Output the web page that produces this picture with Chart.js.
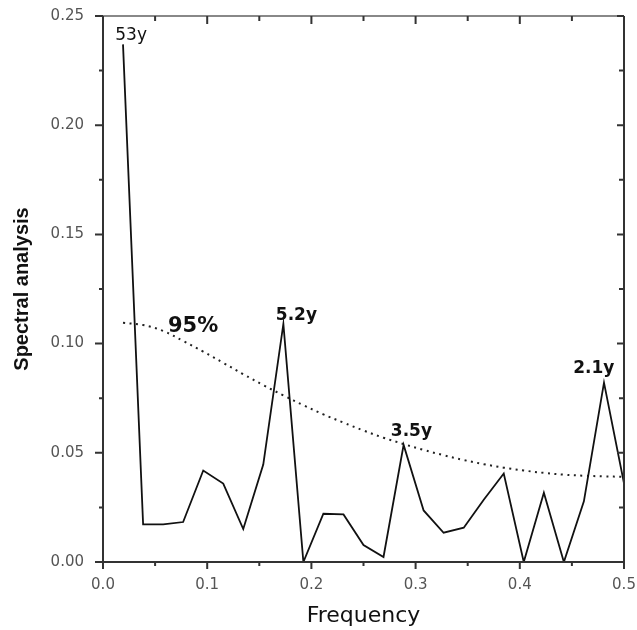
<!DOCTYPE html>
<html>
<head>
<meta charset="utf-8">
<script src="https://cdn.jsdelivr.net/npm/chart.js@4.4.1/dist/chart.umd.min.js"></script>
<style>
  body { margin: 0; background: #fff; }
  #wrap { width: 637px; height: 630px; position: relative; }
</style>
</head>
<body>
<div id="wrap"><canvas id="spectrumChart"></canvas></div>
<script>
// ==================== DATA ====================
const freq = [0.0192, 0.0385, 0.0577, 0.0769, 0.0962, 0.1154, 0.1346, 0.1538, 0.1731, 0.1923,
              0.2115, 0.2308, 0.25, 0.2692, 0.2885, 0.3077, 0.3269, 0.3462, 0.3654, 0.3846,
              0.4038, 0.4231, 0.4423, 0.4615, 0.4808, 0.5];
const power = [0.237, 0.0172, 0.0172, 0.0183, 0.0419, 0.0359, 0.0151, 0.0446, 0.109, 0,
               0.0221, 0.0218, 0.0078, 0.0023, 0.0536, 0.0236, 0.0134, 0.0157, 0.0285, 0.0405,
               0, 0.0317, 0, 0.0278, 0.0821, 0.036];
const conf95 = [0.1095, 0.1085, 0.1058, 0.1012, 0.0963, 0.0912, 0.086, 0.081, 0.0763, 0.0718,
                0.0676, 0.0638, 0.0602, 0.0569, 0.054, 0.0513, 0.0489, 0.0467, 0.0448, 0.0432,
                0.0419, 0.0408, 0.04, 0.0395, 0.0392, 0.039];
const xTicks = [0, 0.1, 0.2, 0.3, 0.4, 0.5];
const yTicks = [0, 0.05, 0.10, 0.15, 0.20, 0.25];
// peak labels: text, x, y (data units), bold
const peakLabels = [
    ['53y', 0.027, 0.241, false],
    ['95%', 0.0865, 0.108, true],
    ['5.2y', 0.1856, 0.113, true],
    ['3.5y', 0.296, 0.0598, true],
    ['2.1y', 0.471, 0.0886, true]
];

const FONT = 'DejaVu Sans';

// frame + ticks + labels
const framePlugin = {
    id: 'frame',
    afterDraw(chart) {
        const ctx = chart.ctx;
        const xs = chart.scales.x, ys = chart.scales.y;
        const a = chart.chartArea;
        ctx.save();
        ctx.lineCap = 'butt';
        // top axis (lighter)
        ctx.strokeStyle = '#888';
        ctx.lineWidth = 2;
        ctx.beginPath(); ctx.moveTo(a.left, a.top); ctx.lineTo(a.right, a.top); ctx.stroke();
        ctx.strokeStyle = '#333';
        ctx.beginPath();
        ctx.moveTo(a.left, a.top); ctx.lineTo(a.left, a.bottom); ctx.lineTo(a.right, a.bottom);
        ctx.moveTo(a.right, a.top); ctx.lineTo(a.right, a.bottom);
        ctx.stroke();
        ctx.lineWidth = 2;
        ctx.beginPath();
        for (let i = 0; i <= 10; i++) {
            const v = i * 0.05;
            const px = xs.getPixelForValue(v);
            const major = i % 2 === 0;
            ctx.moveTo(px, a.bottom); ctx.lineTo(px, a.bottom + (major ? 7 : 4));
            ctx.moveTo(px, a.top); ctx.lineTo(px, a.top + (major ? 8 : 5));
        }
        for (let i = 0; i <= 10; i++) {
            const v = i * 0.025;
            const py = ys.getPixelForValue(v);
            const major = i % 2 === 0;
            ctx.moveTo(a.left, py); ctx.lineTo(a.left - (major ? 8 : 4), py);
            ctx.moveTo(a.right, py); ctx.lineTo(a.right - (major ? 7 : 5), py);
        }
        ctx.stroke();
        // peak labels
        ctx.fillStyle = '#111';
        ctx.textAlign = 'center';
        ctx.textBaseline = 'middle';
        peakLabels.forEach(([t, x, y, bold]) => {
            const size = t === '95%' ? 21 : 17;
            ctx.font = (bold ? 'bold ' : '') + size + 'px "' + FONT + '"';
            ctx.fillText(t, xs.getPixelForValue(x), ys.getPixelForValue(y));
        });
        ctx.restore();
    }
};

const ctx = document.getElementById('spectrumChart').getContext('2d');
window.spectrumChart = new Chart(ctx, {
    type: 'line',
    data: {
        datasets: [
            { label: 'Spectrum', data: freq.map((f, i) => ({ x: f, y: power[i] })), borderColor: '#111', borderWidth: 1.8, pointRadius: 0, tension: 0 },
            { label: '95%', data: freq.map((f, i) => ({ x: f, y: conf95[i] })), borderColor: '#222', borderWidth: 2, borderDash: [2, 4.5], pointRadius: 0, tension: 0.4 }
        ]
    },
    options: {
        responsive: true, maintainAspectRatio: false, animation: false,
        layout: { padding: { top: 16, right: 13, left: 0, bottom: 0 } },
        plugins: { legend: { display: false }, tooltip: { enabled: false } },
        scales: {
            x: {
                type: 'linear', min: 0, max: 0.5,
                afterFit: s => { s.height = 68; s.paddingLeft = 0; s.paddingRight = 0; },
                afterBuildTicks: s => { s.ticks = xTicks.map(v => ({ value: v })); },
                ticks: { callback: v => v.toFixed(1), color: '#555', font: { family: FONT, size: 15 }, padding: 14, maxRotation: 0 },
                grid: { display: false, drawTicks: false },
                border: { display: false },
                title: { display: true, text: 'Frequency', color: '#111', font: { family: FONT, size: 22 }, padding: { top: 0, bottom: 1 } }
            },
            y: {
                type: 'linear', min: 0, max: 0.25,
                afterFit: s => { s.width = 103; s.paddingTop = 0; s.paddingBottom = 0; },
                afterBuildTicks: s => { s.ticks = yTicks.map(v => ({ value: v })); },
                ticks: { callback: v => v.toFixed(2), color: '#555', font: { family: FONT, size: 15 }, padding: 19 },
                grid: { display: false, drawTicks: false },
                border: { display: false },
                title: { display: true, text: 'Spectral analysis', color: '#111', font: { family: 'Liberation Sans', size: 20, weight: 'bold' }, padding: { top: 10, bottom: 0 } }
            }
        }
    },
    plugins: [framePlugin]
});
</script>
</body>
</html>
